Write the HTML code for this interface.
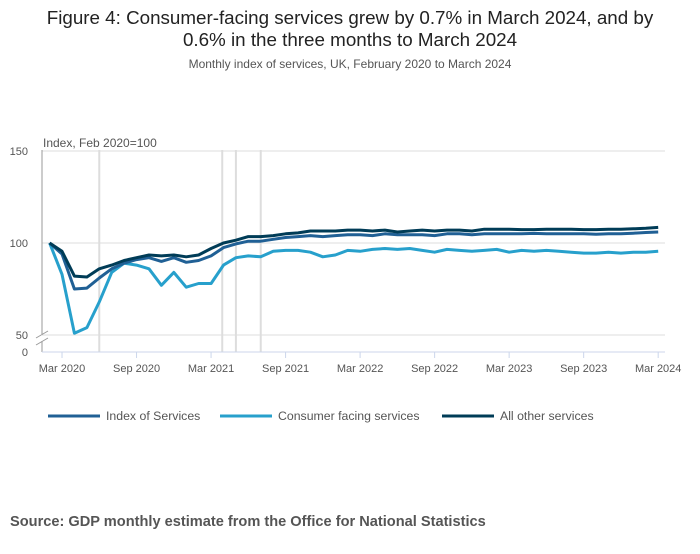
<!DOCTYPE html>
<html><head><meta charset="utf-8"><style>
body{margin:0;background:#fff;font-family:"Liberation Sans",sans-serif;}
svg text{font-family:"Liberation Sans",sans-serif;}
</style></head><body>
<svg id="c" width="700" height="549" xmlns="http://www.w3.org/2000/svg">
<text x="350" y="24" text-anchor="middle" font-size="18.8" fill="#222">Figure 4: Consumer-facing services grew by 0.7% in March 2024, and by</text>
<text x="350" y="46" text-anchor="middle" font-size="18.8" fill="#222">0.6% in the three months to March 2024</text>
<text x="350" y="68" text-anchor="middle" font-size="12" fill="#555">Monthly index of services, UK, February 2020 to March 2024</text>
<text x="43" y="147" font-size="12" fill="#555">Index, Feb 2020=100</text>
<g id="grid"></g><g id="marks"></g><g id="axes"></g>
<g>
<line x1="48" y1="416" x2="100" y2="416" stroke="#206095" stroke-width="3"/>
<text x="106" y="420" font-size="12.3" fill="#555">Index of Services</text>
<line x1="220" y1="416" x2="272" y2="416" stroke="#27a0cc" stroke-width="3"/>
<text x="278" y="420" font-size="12.3" fill="#555">Consumer facing services</text>
<line x1="442" y1="416" x2="494" y2="416" stroke="#003c57" stroke-width="3"/>
<text x="500" y="420" font-size="12.3" fill="#555">All other services</text>
</g>
<text x="10" y="526" font-size="14.6" font-weight="bold" fill="#555">Source: GDP monthly estimate from the Office for National Statistics</text>
</svg>
<script>
const indexServices=[100,94,75,75.5,81,86,89,91,92,90,92,89.5,90.5,93,97.5,99.5,101,101,102,103,103.5,104,103.5,104,104.5,104.5,104,105,104.5,104.5,104.5,104,105,105,104.5,105,105,105,105,105.2,105,105,105,105,104.8,105,105,105.3,105.7,106];
const consumerFacing=[100,83,51,54,68,84,89,88,86,77,84,76,78,78,88,92,93,92.5,95.5,96,96,95,92.5,93.5,96,95.5,96.5,97,96.5,97,96,95,96.5,96,95.5,96,96.5,95,96,95.5,96,95.5,95,94.5,94.5,95,94.5,95,95,95.5];
const allOther=[100,95.5,82,81.5,86,88,90.5,92,93.5,93,93.5,92.5,93.5,97,100,101.5,103.5,103.5,104,105,105.5,106.5,106.5,106.5,107,107,106.5,107,106,106.5,107,106.5,107,107,106.5,107.5,107.5,107.5,107.3,107.3,107.5,107.5,107.5,107.3,107.3,107.5,107.5,107.7,108,108.5];
const xTickLabels=["Mar 2020","Sep 2020","Mar 2021","Sep 2021","Mar 2022","Sep 2022","Mar 2023","Sep 2023","Mar 2024"];
const xTickMonths=[1,7,13,19,25,31,37,43,49];
const yTicks=[50,100,150];
const markerMonths=[4,13.9,15,17];
const NS="http://www.w3.org/2000/svg";
const X=m=>49.6+m*12.42;
const Y=v=>243-(v-100)*1.84;
function mk(t,a,p){const e=document.createElementNS(NS,t);for(const k in a)e.setAttribute(k,a[k]);p.appendChild(e);return e;}
const grid=document.getElementById('grid'),marks=document.getElementById('marks'),axes=document.getElementById('axes');
yTicks.forEach(v=>{
 const l=mk('line',{x1:42,x2:665,y1:Y(v),y2:Y(v),stroke:'#dddddd'},grid);
 
 
 const t=mk('text',{x:28,y:Y(v)+4,'font-size':11,fill:'#555','text-anchor':'end'},axes);t.textContent=v;
 
 
});
const z=mk('text',{x:28,y:356,'font-size':11,fill:'#555','text-anchor':'end'},axes);z.textContent='0';


markerMonths.forEach((m,i)=>{
 const l=mk('line',{x1:X(m),x2:X(m),y1:150,y2:352,stroke:'#dddddd','stroke-width':2},grid);
 
 
});
const ya=mk('path',{d:'M42,150V334M42,341V352',stroke:'#999',fill:'none'},axes);


const br=mk('path',{d:'M36,338L48,331M36,345L48,338',stroke:'#999',fill:'none'},axes);


const xa=mk('line',{x1:42,x2:665,y1:352,y2:352,stroke:'#ccd6eb'},axes);


xTickMonths.forEach((m,i)=>{
 mk('line',{x1:X(m),x2:X(m),y1:352,y2:358,stroke:'#ccd6eb'},axes);
 const t=mk('text',{x:X(m),y:372,'font-size':11,fill:'#555','text-anchor':'middle'},axes);t.textContent=xTickLabels[i];
 
 
});
[[consumerFacing,'#27a0cc','series-consumer-facing'],[indexServices,'#206095','series-index-of-services'],[allOther,'#003c57','series-all-other']].forEach(([d,c,n])=>{
 const p=mk('path',{d:d.map((v,i)=>(i?'L':'M')+X(i).toFixed(1)+','+Y(v).toFixed(1)).join(''),stroke:c,'stroke-width':3,fill:'none','stroke-linejoin':'round'},marks);
 
 
});
</script>
</body></html>
